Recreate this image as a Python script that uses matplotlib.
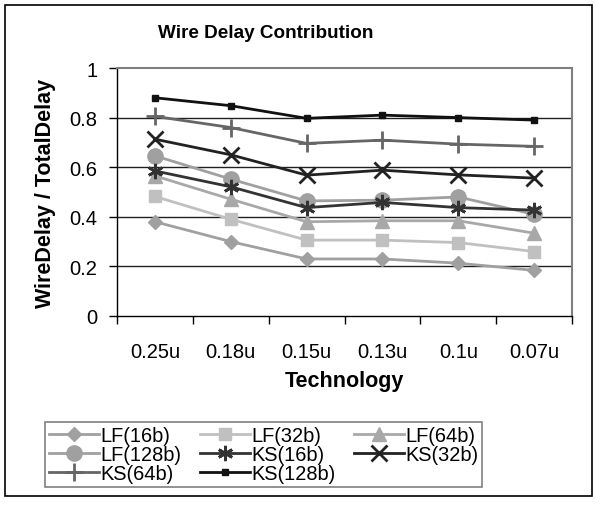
import matplotlib
matplotlib.use('Agg')
import matplotlib.pyplot as plt
import matplotlib.patches as patches
import numpy

plt.rcParams['font.family'] = ['Liberation Sans', 'DejaVu Sans']

technology = ['0.25u', '0.18u', '0.15u', '0.13u', '0.1u', '0.07u']

lf_16 = [0.38, 0.30, 0.23, 0.23, 0.213, 0.184]
lf_32 = [0.482, 0.39, 0.306, 0.306, 0.296, 0.26]
lf_64 = [0.565, 0.471, 0.38, 0.384, 0.384, 0.334]
lf_128 = [0.646, 0.552, 0.464, 0.467, 0.48, 0.41]
ks_16 = [0.585, 0.521, 0.437, 0.458, 0.437, 0.427]
ks_32 = [0.713, 0.65, 0.568, 0.588, 0.569, 0.556]
ks_64 = [0.805, 0.76, 0.696, 0.709, 0.693, 0.684]
ks_128 = [0.88, 0.848, 0.797, 0.81, 0.80, 0.79]

# name, values, color, marker, marker size
series = [
    ('LF(16b)', lf_16, '#a0a0a0', 'D', 7.5),
    ('LF(32b)', lf_32, '#c0c0c0', 's', 9),
    ('LF(64b)', lf_64, '#a8a8a8', '^', 10),
    ('LF(128b)', lf_128, '#a0a0a0', 'o', 11),
    ('KS(16b)', ks_16, '#333333', (6, 2, 0), 11),
    ('KS(32b)', ks_32, '#222222', 'x', 11),
    ('KS(64b)', ks_64, '#666666', '+', 13),
    ('KS(128b)', ks_128, '#111111', 's', 4),
]

fig = plt.figure(figsize=(5.97, 5.06), dpi=100)
ax = fig.add_axes([117/597, 1-317/506, 455/597, 248/506])

x = numpy.arange(len(technology))
handles = {}
for name, vals, col, mk, ms in series:
    mew = 2 if mk in ('x', '+') or isinstance(mk, tuple) else 1
    h, = ax.plot(x, vals, color=col, lw=2, marker=mk, markersize=ms,
                 markerfacecolor=col, markeredgecolor=col, markeredgewidth=mew,
                 label=name, zorder=3)
    handles[name] = h

ax.set_xlim(-0.5, len(technology) - 0.5)
ax.set_ylim(0, 1)
ax.set_yticks([0, 0.2, 0.4, 0.6, 0.8, 1])
ax.set_yticklabels(['0', '0.2', '0.4', '0.6', '0.8', '1'])
ax.set_xticks(numpy.arange(-0.5, len(technology), 1.0))
ax.set_xticklabels([])
ax.set_xticks(x, minor=True)
ax.set_xticklabels(technology, minor=True)
ax.tick_params(axis='x', which='major', direction='out', length=6, width=1, color='black')
ax.tick_params(axis='x', which='minor', length=0, labelsize=14.5, pad=19)
ax.tick_params(axis='y', direction='out', length=6, width=1, labelsize=14.5, pad=8)

for yv in [0.2, 0.4, 0.6, 0.8]:
    ax.axhline(yv, color='#202020', lw=1, zorder=1)

for s in ax.spines.values():
    s.set_color('#808080')
    s.set_linewidth(1.5)
ax.spines['left'].set_color('black')
ax.spines['left'].set_linewidth(1)
ax.spines['bottom'].set_color('black')
ax.spines['bottom'].set_linewidth(1)

fig.text(266/597, 1 - 33/506, 'Wire Delay Contribution',
         ha='center', va='center', fontsize=13.6, fontweight='bold')
ax.set_ylabel('WireDelay / TotalDelay', fontsize=15.5, fontweight='bold', labelpad=10)
ax.set_xlabel('Technology', fontsize=15.5, fontweight='bold', labelpad=6)

order = ['LF(16b)', 'LF(128b)', 'KS(64b)', 'LF(32b)', 'KS(16b)', 'KS(128b)', 'LF(64b)', 'KS(32b)']
leg = fig.legend([handles[n] for n in order], order, ncol=3,
                 loc='upper left', bbox_to_anchor=(45/597, 1 - 423/506),
                 fontsize=14.4, frameon=True, fancybox=False, framealpha=1,
                 edgecolor='#808080', handlelength=2.5, handletextpad=0.05,
                 columnspacing=0.95, labelspacing=0.0, borderpad=0.2,
                 borderaxespad=0)
leg.get_frame().set_linewidth(1.2)

frame = patches.Rectangle((5/597, 1 - 497/506), 587/597, 491/506,
                          transform=fig.transFigure, fill=False,
                          edgecolor='black', lw=1.2)
fig.patches.append(frame)

fig.savefig('out.png', dpi=100)
